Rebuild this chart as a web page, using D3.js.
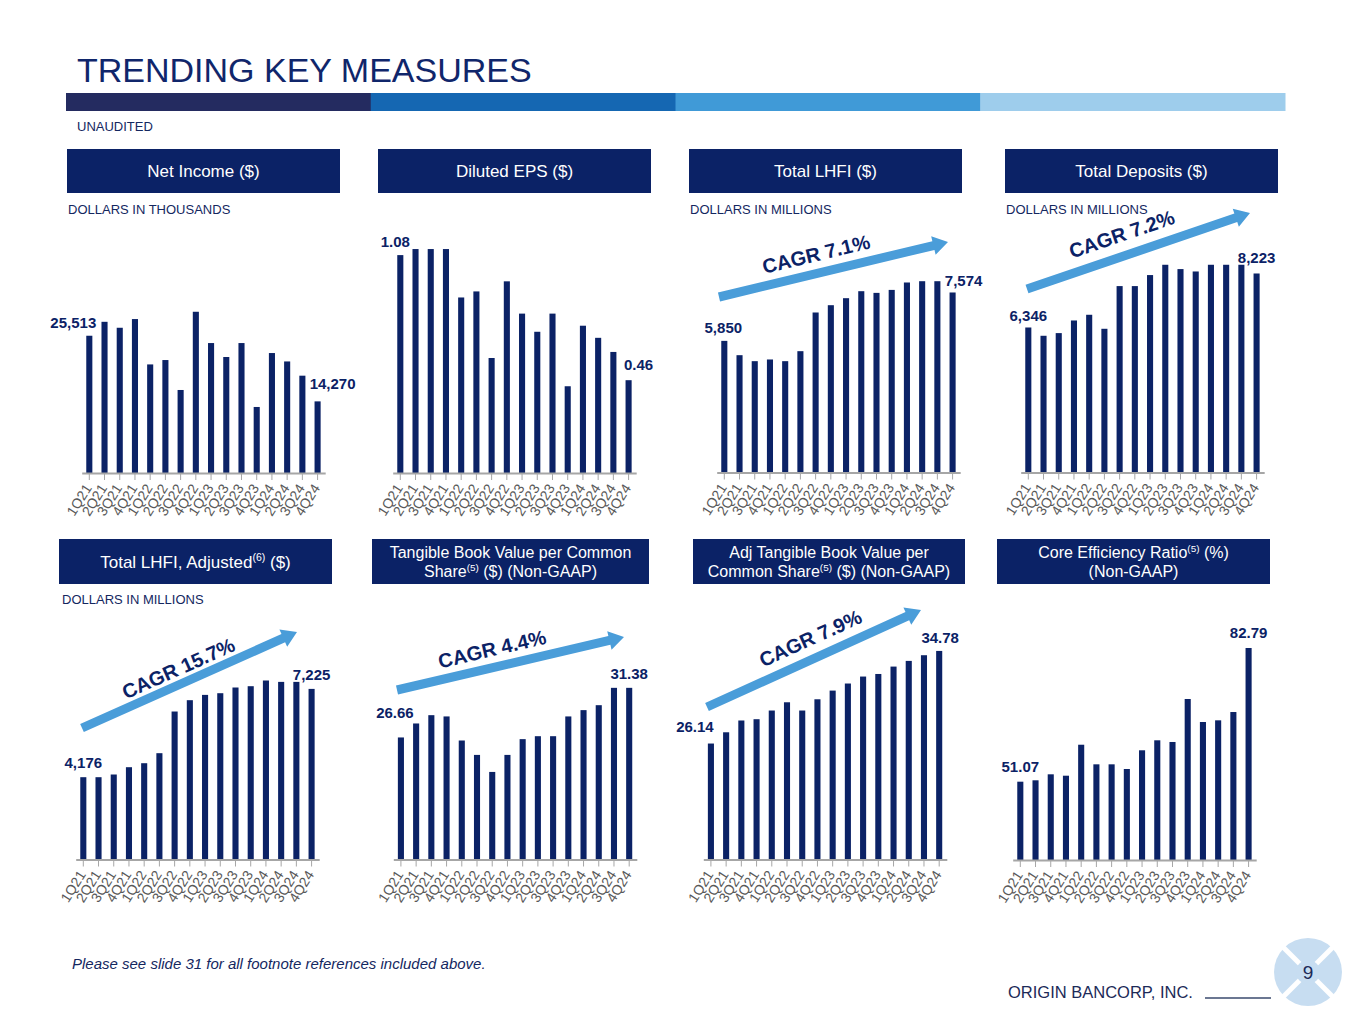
<!DOCTYPE html>
<html>
<head>
<meta charset="utf-8">
<script src="https://cdn.jsdelivr.net/npm/d3@7"></script>
<style>
  html,body{margin:0;padding:0;background:#fff;}
  svg{display:block;font-family:"Liberation Sans",Arial,sans-serif;}
</style>
</head>
<body>
<div id="slide"></div>
<script>
// Trending key measures — 8 small quarterly bar panels
const QUARTERS = ['1Q21','2Q21','3Q21','4Q21','1Q22','2Q22','3Q22','4Q22','1Q23','2Q23','3Q23','4Q23','1Q24','2Q24','3Q24','4Q24'];

const netIncome      = [25513, 27900, 26880, 28370, 20600, 21350, 16220, 29620, 24260, 21870, 24260, 13310, 22550, 21110, 18670, 14270];
const dilutedEps     = [1.08, 1.11, 1.11, 1.11, 0.87, 0.90, 0.57, 0.95, 0.79, 0.70, 0.79, 0.43, 0.73, 0.67, 0.60, 0.46];
const totalLhfi      = [5850, 5340, 5127, 5187, 5127, 5483, 6861, 7121, 7371, 7620, 7560, 7666, 7930, 7976, 7976, 7574];
const totalDeposits  = [6346, 6058, 6151, 6590, 6788, 6301, 7785, 7785, 8168, 8526, 8376, 8293, 8526, 8526, 8526, 8223];
const lhfiAdjusted   = [4176, 4176, 4269, 4521, 4659, 5005, 6444, 6835, 7018, 7076, 7273, 7318, 7515, 7467, 7467, 7225];
const tbvPerShare    = [26.66, 27.99, 28.78, 28.66, 26.37, 25.00, 23.38, 25.00, 26.50, 26.78, 26.78, 28.66, 29.26, 29.73, 31.38, 31.38];
const adjTbvPerShare = [26.14, 27.19, 28.29, 28.41, 29.22, 29.99, 29.22, 30.27, 31.08, 31.74, 32.39, 32.63, 33.32, 33.85, 34.38, 34.78];
const coreEfficiency = [51.07, 51.40, 52.82, 52.49, 59.84, 55.19, 55.19, 54.08, 58.52, 60.89, 60.49, 70.69, 65.23, 65.63, 67.60, 82.79];

const NAVY = '#0b2266', TXT = '#14275f', ARROW = '#4a9dd9', GREY_AX = '#a6a6a6';
const fInt = d3.format(','), fDec = d3.format('.2f');

// panel layout ("^" toggles superscript)
const panels = [
  {data:netIncome, fmt:fInt, x0:81.7, base:473, dom:[2000,41400],
   box:[67,149,273,44], title:['Net Income ($)'], sub:'DOLLARS IN THOUSANDS', subXY:[68,214],
   lab:[{dx:-16,gap:8},{dx:15,gap:12}]},
  {data:dilutedEps, fmt:fDec, x0:392.7, base:473, dom:[0,1.14],
   box:[378,149,273,44], title:['Diluted EPS ($)'],
   lab:[{dx:-5,gap:8},{dx:10,gap:10}]},
  {data:totalLhfi, fmt:fInt, x0:716.7, base:472.5, dom:[1160,9355],
   box:[689,149,273,44], title:['Total LHFI ($)'], sub:'DOLLARS IN MILLIONS', subXY:[690,214],
   lab:[{dx:-1,gap:8},{dx:11,gap:6}],
   cagr:{text:'CAGR 7.1%', tail:[719,297], tip:[948,242], at:[817,258]}},
  {data:totalDeposits, fmt:fInt, x0:1020.7, base:472.5, dom:[1306,9300],
   box:[1005,149,273,44], title:['Total Deposits ($)'], sub:'DOLLARS IN MILLIONS', subXY:[1006,214],
   lab:[{dx:0,gap:6},{dx:0,gap:10}],
   cagr:{text:'CAGR 7.2%', tail:[1027,289], tip:[1250,213], at:[1123,238]}},
  {data:lhfiAdjusted, fmt:fInt, x0:75.7, base:859.5, dom:[1334,9276],
   box:[59,539,273,45], title:['Total LHFI, Adjusted^(6)^ ($)'], sub:'DOLLARS IN MILLIONS', subXY:[62,604],
   lab:[{dx:0,gap:9},{dx:0,gap:9}],
   cagr:{text:'CAGR 15.7%', tail:[82,728], tip:[297,632], at:[180,672]}},
  {data:tbvPerShare, fmt:fDec, x0:393.3, base:859.5, dom:[15.05,36.93],
   box:[372,539,277,45], title:['Tangible Book Value per Common','Share^(5)^ ($) (Non-GAAP)'],
   lab:[{dx:-6,gap:19},{dx:0,gap:9}],
   cagr:{text:'CAGR 4.4%', tail:[397,690], tip:[624,637], at:[493,653]}},
  {data:adjTbvPerShare, fmt:fDec, x0:703.3, base:859.5, dom:[15.32,36.78],
   box:[693,539,272,45], title:['Adj Tangible Book Value per','Common Share^(5)^ ($) (Non-GAAP)'],
   lab:[{dx:-16,gap:12},{dx:1,gap:8}],
   cagr:{text:'CAGR 7.9%', tail:[707,707], tip:[921,610], at:[812,642]}},
  {data:coreEfficiency, fmt:fDec, x0:1012.7, base:860, dom:[32.49,87.06],
   box:[997,539,273,45], title:['Core Efficiency Ratio^(5)^ (%)','(Non-GAAP)'],
   lab:[{dx:0,gap:10},{dx:0,gap:10}]}
];

const W = 1365, H = 1024;
const svg = d3.select('#slide').append('svg').attr('width',W).attr('height',H);
svg.append('rect').attr('width',W).attr('height',H).attr('fill','#fff');

// header
svg.append('text').attr('x',77).attr('y',82).attr('font-size',34).attr('fill','#10266b').text('TRENDING KEY MEASURES');
const stripe = ['#242b60','#1567b2','#409ad7','#9ecdec'];
const sx = d3.scaleBand().domain(d3.range(4)).range([66,1285]);
svg.selectAll('rect.stripe').data(stripe).join('rect').attr('class','stripe')
  .attr('x',(d,i)=>sx(i)).attr('y',93).attr('width',sx.bandwidth()+0.5).attr('height',18).attr('fill',d=>d);
svg.append('text').attr('x',77).attr('y',131).attr('font-size',13).attr('fill',TXT).text('UNAUDITED');

function richLine(t, str, x, y, size){
  const parts = str.split('^');
  const el = t.append('text').attr('x',x).attr('y',y).attr('text-anchor','middle').attr('font-size',size).attr('fill','#fff');
  parts.forEach((p,i)=>{
    if(!p) return;
    const sup = i%2===1;
    el.append('tspan').attr('font-size',sup?size*0.62:size).attr('dy',sup?-size*0.38:(i>0?size*0.38:0)).text(p);
  });
}

function arrow(g, c){
  const [x1,y1]=c.tail, [x2,y2]=c.tip;
  const ang = Math.atan2(y2-y1, x2-x1), len = Math.hypot(x2-x1,y2-y1), deg = ang*180/Math.PI;
  const sw = 4.5, hw = 9.5, hl = 15;
  const pts = [[0,-sw],[len-hl,-sw],[len-hl,-hw],[len,0],[len-hl,hw],[len-hl,sw],[0,sw]];
  g.append('path').attr('d', d3.line()(pts)+'Z')
    .attr('transform',`translate(${x1},${y1}) rotate(${deg})`).attr('fill',ARROW);
  // nudge text a little off the shaft, along the normal
  const nx = Math.sin(ang)*4, ny = -Math.cos(ang)*4;
  g.append('text').attr('transform',`translate(${c.at[0]+nx},${c.at[1]+ny}) rotate(${deg})`)
    .attr('text-anchor','middle').attr('dy','0.35em').attr('font-size',20).attr('font-weight',700)
    .attr('fill',NAVY).text(c.text);
}

panels.forEach(p=>{
  const g = svg.append('g');
  const [bx,by,bw,bh] = p.box;
  g.append('rect').attr('x',bx).attr('y',by).attr('width',bw).attr('height',bh).attr('fill',NAVY);
  if(p.title.length===1) richLine(g, p.title[0], bx+bw/2, by+bh/2+6, 17);
  else { richLine(g, p.title[0], bx+bw/2, by+bh/2-3.5, 16); richLine(g, p.title[1], bx+bw/2, by+bh/2+15.5, 16); }
  if(p.sub) g.append('text').attr('x',p.subXY[0]).attr('y',p.subXY[1]).attr('font-size',13).attr('fill',TXT).text(p.sub);

  const x = d3.scaleBand().domain(QUARTERS).range([p.x0, p.x0+243.5]).paddingInner(0.6).paddingOuter(0.3);
  const y = d3.scaleLinear().domain(p.dom).range([p.base, p.base-230]);

  g.selectAll('rect.bar').data(p.data).join('rect').attr('class','bar')
    .attr('x',(d,i)=>x(QUARTERS[i])).attr('width',x.bandwidth())
    .attr('y',d=>y(d)).attr('height',d=>p.base-y(d)).attr('fill',NAVY);

  // axis
  const ax = g.append('g').attr('transform',`translate(0,${p.base})`)
    .call(d3.axisBottom(x).tickSize(7).tickSizeOuter(0).tickFormat(''));
  ax.select('.domain').attr('stroke',GREY_AX).attr('stroke-width',2);
  ax.selectAll('.tick line').attr('stroke',GREY_AX).attr('stroke-width',1);
  g.selectAll('text.tl').data(QUARTERS).join('text').attr('class','tl')
    .attr('transform',d=>`translate(${x(d)+x.bandwidth()/2+3},${p.base+15}) rotate(-58)`)
    .attr('text-anchor','end').attr('font-size',14).attr('fill','#595959').text(d=>d);

  // end labels
  [0, p.data.length-1].forEach((i,k)=>{
    const L = p.lab[k];
    g.append('text').attr('x',x(QUARTERS[i])+x.bandwidth()/2+L.dx).attr('y',y(p.data[i])-L.gap)
      .attr('text-anchor','middle').attr('font-size',15).attr('font-weight',700).attr('fill',NAVY)
      .text(p.fmt(p.data[i]));
  });

  if(p.cagr) arrow(g, p.cagr);
});

// footer
svg.append('text').attr('x',72).attr('y',969).attr('font-size',15).attr('font-style','italic').attr('fill',TXT)
  .text('Please see slide 31 for all footnote references included above.');
svg.append('text').attr('x',1008).attr('y',998).attr('font-size',16.5).attr('fill','#1c2a58').text('ORIGIN BANCORP, INC.');
svg.append('line').attr('x1',1205).attr('x2',1271).attr('y1',998).attr('y2',998).attr('stroke','#3a4a6e').attr('stroke-width',1.3);
const logo = svg.append('g').attr('transform','translate(1308,972)');
logo.append('circle').attr('r',34).attr('fill','#c7ddf1');
[45,-45].forEach(a=>logo.append('line').attr('x1',-40).attr('x2',40).attr('transform',`rotate(${a})`)
  .attr('stroke','#fff').attr('stroke-width',5));
logo.append('circle').attr('r',12).attr('fill','#c7ddf1');
logo.append('text').attr('text-anchor','middle').attr('dy','0.36em').attr('font-size',19).attr('fill','#1c2a58').text('9');
</script>
</body>
</html>
